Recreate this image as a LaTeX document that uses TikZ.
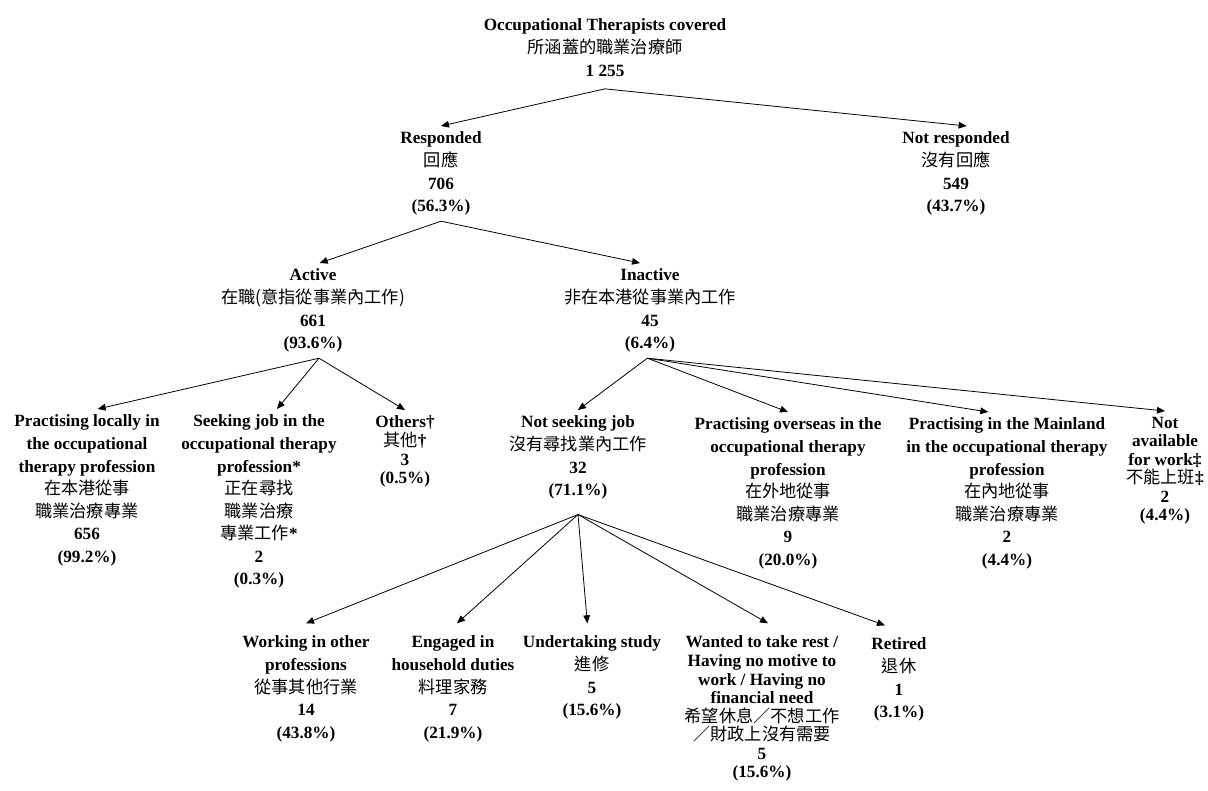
\documentclass[tikz,border=0pt]{standalone}
\usepackage{fontspec}
\setmainfont{Liberation Serif}
\newfontfamily\cjk{Noto Sans CJK TC}
\usetikzlibrary{positioning,arrows.meta}
\newcommand\zh[1]{{\cjk\mdseries #1}}
\newcommand\looselines{\lineskiplimit-5pt\relax}

\begin{document}
\begin{tikzpicture}[x=0.75pt, y=-0.75pt,
    box/.style={anchor=north, align=center, inner sep=0pt, outer ysep=4.5pt,
        font={\fontsize{12.9pt}{16.9pt}\selectfont\bfseries\looselines}},
    tightbox/.style={box,
        font={\fontsize{12.9pt}{13.9pt}\selectfont\bfseries\looselines}},
    arr/.style={-{Triangle[length=6pt,width=5pt]}, line width=0.6pt}]
    \useasboundingbox (0,0) rectangle (1208,790);

    % Top level
    \node[box] (root) at (605,13) {Occupational Therapists covered\\\zh{所涵蓋的職業治療師}\\1 255};

    % Response
    \node[box] (resp) at (441,126) {Responded\\\zh{回應}\\706\\(56.3\%)};
    \node[box] (notresp) at (956,126) {Not responded\\\zh{沒有回應}\\549\\(43.7\%)};

    % Active / inactive
    \node[box] (active) at (313,263) {Active\\\zh{在職(意指從事業內工作)}\\661\\(93.6\%)};
    \node[box] (inactive) at (650,263) {Inactive\\\zh{非在本港從事業內工作}\\45\\(6.4\%)};

    % Under active
    \node[box] (local) at (87,409) {Practising locally in\\the occupational\\therapy profession\\\zh{在本港從事}\\\zh{職業治療專業}\\656\\(99.2\%)};
    \node[box] (seek) at (259,409) {Seeking job in the\\occupational therapy\\profession*\\\zh{正在尋找}\\\zh{職業治療}\\\zh{專業工作}*\\2\\(0.3\%)};
    \node[tightbox] (others) at (405,410) {Others†\\\zh{其他}†\\3\\(0.5\%)};

    % Under inactive
    \node[box] (notseek) at (578,410) {Not seeking job\\\zh{沒有尋找業內工作}\\32\\(71.1\%)};
    \node[box] (overseas) at (788,412) {Practising overseas in the\\occupational therapy\\profession\\\zh{在外地從事}\\\zh{職業治療專業}\\9\\(20.0\%)};
    \node[box] (mainland) at (1007,412) {Practising in the Mainland\\in the occupational therapy\\profession\\\zh{在內地從事}\\\zh{職業治療專業}\\2\\(4.4\%)};
    \node[tightbox] (notavail) at (1165,411) {Not\\available\\for work‡\\\zh{不能上班}‡\\2\\(4.4\%)};

    % Under not seeking job
    \node[box] (working) at (306,630) {Working in other\\professions\\\zh{從事其他行業}\\14\\(43.8\%)};
    \node[box] (household) at (453,630) {Engaged in\\household duties\\\zh{料理家務}\\7\\(21.9\%)};
    \node[box] (study) at (592,630) {Undertaking study\\\zh{進修}\\5\\(15.6\%)};
    \node[tightbox] (wanted) at (762,630) {Wanted to take rest /\\Having no motive to\\work / Having no\\financial need\\\zh{希望休息／不想工作}\\\zh{／財政上沒有需要}\\5\\(15.6\%)};
    \node[box] (retired) at (899,632) {Retired\\\zh{退休}\\1\\(3.1\%)};

    % Arrows
    \draw[arr] ([yshift=-5pt]root.south) -- (resp.north);
    \draw[arr] ([yshift=-5pt]root.south) -- ([xshift=8pt]notresp.north);
    \draw[arr] (resp.south) -- ([xshift=5pt]active.north);
    \draw[arr] (resp.south) -- ([xshift=-7.5pt]inactive.north);
    \draw[arr] ([xshift=4.5pt]active.south) -- ([xshift=8pt]local.north);
    \draw[arr] ([xshift=4.5pt]active.south) -- ([xshift=13.5pt]seek.north);
    \draw[arr] ([xshift=4.5pt]active.south) -- (others.north);
    \draw[arr] ([xshift=-2pt]inactive.south) -- (notseek.north);
    \draw[arr] ([xshift=-2pt]inactive.south) -- (overseas.north);
    \draw[arr] ([xshift=-2pt]inactive.south) -- ([xshift=-14pt]mainland.north);
    \draw[arr] ([xshift=-2pt]inactive.south) -- (notavail.north);
    \draw[arr] ([yshift=-7pt]notseek.south) -- ([yshift=5pt]working.north);
    \draw[arr] ([yshift=-7pt]notseek.south) -- ([xshift=3pt,yshift=5pt]household.north);
    \draw[arr] ([yshift=-7pt]notseek.south) -- ([xshift=-3.5pt,yshift=5pt]study.north);
    \draw[arr] ([yshift=-7pt]notseek.south) -- ([xshift=4.5pt,yshift=5pt]wanted.north);
    \draw[arr] ([yshift=-7pt]notseek.south) -- ([xshift=-10.5pt,yshift=5pt]retired.north);
\end{tikzpicture}
\end{document}
